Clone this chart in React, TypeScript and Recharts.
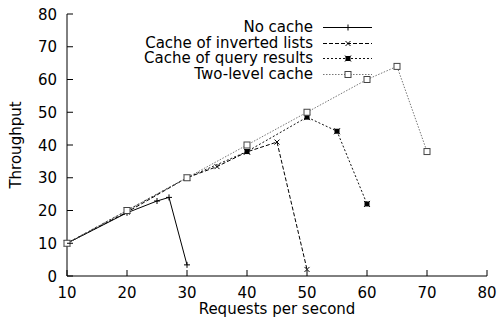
import { LineChart, Line, XAxis, YAxis, Legend } from "recharts";

const xTicks = [10, 20, 30, 40, 50, 60, 70, 80];
const yTicks = [0, 10, 20, 30, 40, 50, 60, 70, 80];

const noCacheX = [10, 20, 25, 27, 30];
const noCacheY = [10, 19.3, 22.9, 24, 3.4];

const invertedX = [10, 20, 30, 35, 40, 45, 50];
const invertedY = [10, 19.5, 30, 33.4, 37.9, 40.9, 2];

const queryX = [10, 20, 30, 40, 50, 55, 60];
const queryY = [10, 20, 30, 38, 48.5, 44.2, 22];

const twoLevelX = [10, 20, 30, 40, 50, 60, 65, 70];
const twoLevelY = [10, 20, 30, 40, 50, 60, 64, 38];

const seriesNames = ["No cache", "Cache of inverted lists", "Cache of query results", "Two-level cache"];

const toPoints = (xs: number[], ys: number[]) => xs.map((x, i) => ({ x, y: ys[i] }));

const FONT = "'DejaVu Sans', sans-serif";

const plus = (cx: number, cy: number, key?: string) => (
  <path key={key} d={`M${cx - 3},${cy}h6M${cx},${cy - 3}v6`} stroke="#000" fill="none" />
);
const cross = (cx: number, cy: number, key?: string) => (
  <path key={key} d={`M${cx - 2.5},${cy - 2.5}l5,5M${cx - 2.5},${cy + 2.5}l5,-5`} stroke="#000" fill="none" />
);
const star = (cx: number, cy: number, key?: string) => (
  <g key={key}>
    <rect x={cx - 2.5} y={cy - 2.5} width={5} height={5} fill="#000" />
    <path d={`M${cx - 3},${cy - 3}l6,6M${cx - 3},${cy + 3}l6,-6`} stroke="#000" />
  </g>
);
const box = (cx: number, cy: number, key?: string) => (
  <rect key={key} x={cx - 3} y={cy - 3} width={6} height={6} fill="#fff" stroke="#444" />
);

const series = [
  { name: seriesNames[0], data: toPoints(noCacheX, noCacheY), stroke: "#000", dash: undefined, mark: plus },
  { name: seriesNames[1], data: toPoints(invertedX, invertedY), stroke: "#000", dash: "4 2", mark: cross },
  { name: seriesNames[2], data: toPoints(queryX, queryY), stroke: "#111", dash: "2 2", mark: star },
  { name: seriesNames[3], data: toPoints(twoLevelX, twoLevelY), stroke: "#777", dash: "1.5 1.5", mark: box },
];

const BottomTick = ({ x, y, payload }: any) => (
  <g>
    <line x1={x} y1={y} x2={x} y2={y - 6} stroke="#000" />
    <text x={x} y={y + 22} textAnchor="middle" fontFamily={FONT} fontSize={15} fill="#000">
      {payload.value}
    </text>
  </g>
);
const TopTick = ({ x, y }: any) => <line x1={x} y1={y} x2={x} y2={y + 6} stroke="#000" />;
const LeftTick = ({ x, y, payload }: any) => (
  <g>
    <line x1={x} y1={y} x2={x + 6} y2={y} stroke="#000" />
    <text x={x - 10} y={y + 5.5} textAnchor="end" fontFamily={FONT} fontSize={15} fill="#000">
      {payload.value}
    </text>
  </g>
);
const RightTick = ({ x, y }: any) => <line x1={x} y1={y} x2={x - 6} y2={y} stroke="#000" />;

function LegendBox() {
  return (
    <div style={{ fontFamily: FONT, fontSize: 15, lineHeight: "15.5px", color: "#000" }}>
      {series.map((s) => (
        <div key={s.name} style={{ display: "flex", alignItems: "center", height: 15.5 }}>
          <div style={{ width: 213, textAlign: "right", whiteSpace: "nowrap" }}>{s.name}</div>
          <svg width={50} height={15} style={{ marginLeft: 10 }}>
            <line x1={0} y1={7.5} x2={49} y2={7.5} stroke={s.stroke} strokeDasharray={s.dash} />
            {s.mark(25, 7.5)}
          </svg>
        </div>
      ))}
    </div>
  );
}

export default function App() {
  return (
    <div style={{ position: "absolute", left: 0, top: 0 }}>
      <LineChart width={498} height={322} margin={{ top: 14, right: 11, bottom: 0, left: 0 }}>
        <XAxis
          dataKey="x"
          type="number"
          domain={[10, 80]}
          ticks={xTicks}
          interval={0}
          height={46}
          tickSize={0}
          tickMargin={0}
          tick={<BottomTick />}
          axisLine={{ stroke: "#000" }}
          label={({ viewBox }: any) => (
            <text
              x={viewBox.x + viewBox.width / 2}
              y={viewBox.y + 38}
              textAnchor="middle"
              fontFamily={FONT}
              fontSize={15}
              fill="#000"
            >
              Requests per second
            </text>
          )}
        />
        <XAxis
          xAxisId="top"
          orientation="top"
          dataKey="x"
          type="number"
          domain={[10, 80]}
          ticks={xTicks}
          interval={0}
          height={0}
          tickSize={0}
          tickMargin={0}
          tick={<TopTick />}
          axisLine={{ stroke: "#000" }}
        />
        <YAxis
          type="number"
          domain={[0, 80]}
          ticks={yTicks}
          interval={0}
          width={67}
          tickSize={0}
          tickMargin={0}
          tick={<LeftTick />}
          axisLine={{ stroke: "#000" }}
          label={({ viewBox }: any) => {
            const cx = viewBox.x + 21;
            const cy = viewBox.y + viewBox.height / 2;
            return (
              <text
                x={cx}
                y={cy}
                transform={`rotate(-90 ${cx} ${cy})`}
                textAnchor="middle"
                fontFamily={FONT}
                fontSize={15}
                fill="#000"
              >
                Throughput
              </text>
            );
          }}
        />
        <YAxis
          yAxisId="right"
          orientation="right"
          type="number"
          domain={[0, 80]}
          ticks={yTicks}
          interval={0}
          width={0}
          tickSize={0}
          tickMargin={0}
          tick={<RightTick />}
          axisLine={{ stroke: "#000" }}
        />
        <Legend
          layout="vertical"
          align="center"
          verticalAlign="middle"
          wrapperStyle={{ top: 20, left: 100, width: 300 }}
          content={() => <LegendBox />}
        />
        {series.map((s) => (
          <Line
            key={s.name}
            data={s.data}
            dataKey="y"
            name={s.name}
            type="linear"
            stroke={s.stroke}
            strokeWidth={1}
            strokeDasharray={s.dash}
            isAnimationActive={false}
            activeDot={false}
            dot={(p: any) => s.mark(p.cx, p.cy, `${s.name}-${p.index}`)}
          />
        ))}
      </LineChart>
    </div>
  );
}
